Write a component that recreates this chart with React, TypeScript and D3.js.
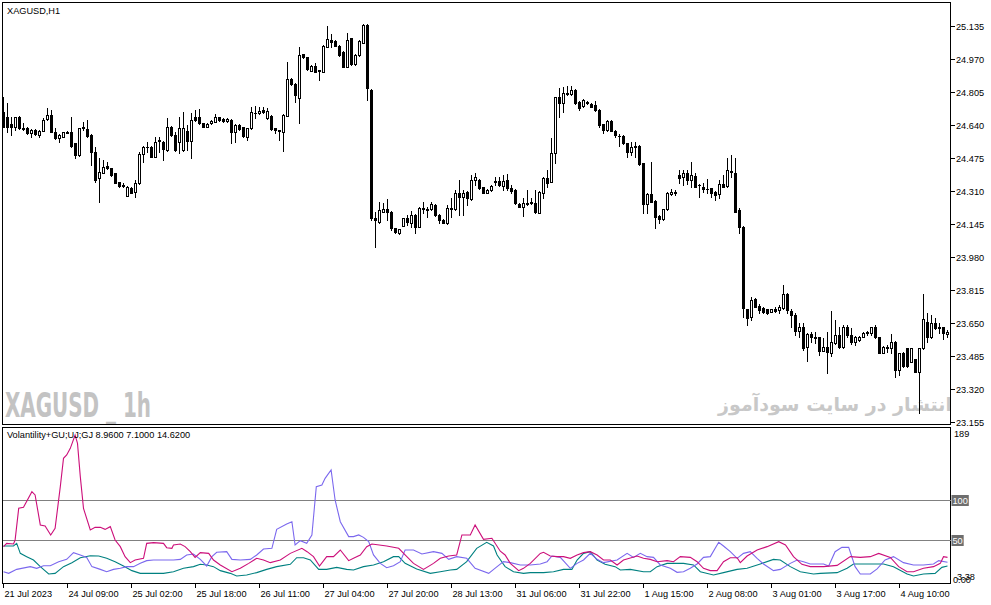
import React, { useRef, useEffect } from 'react';
import * as d3 from 'd3';

// XAGUSD H1 bars (237 bars)
const opens = [
  24.707, 24.682, 24.643, 24.632, 24.682, 24.625, 24.623, 24.598, 24.615, 24.590,
  24.612, 24.668, 24.690, 24.607, 24.573, 24.582, 24.607, 24.607, 24.548, 24.490,
  24.628, 24.618, 24.590, 24.507, 24.373, 24.402, 24.435, 24.423, 24.398, 24.353,
  24.342, 24.287, 24.327, 24.303, 24.348, 24.495, 24.532, 24.532, 24.482, 24.565,
  24.557, 24.515, 24.632, 24.590, 24.557, 24.515, 24.610, 24.560, 24.678, 24.678,
  24.648, 24.632, 24.648, 24.657, 24.678, 24.670, 24.660, 24.665, 24.603, 24.640,
  24.628, 24.582, 24.623, 24.702, 24.698, 24.715, 24.673, 24.685, 24.623, 24.613,
  24.603, 24.687, 24.870, 24.845, 24.773, 24.993, 24.978, 24.912, 24.937, 24.913,
  24.907, 25.032, 25.065, 25.060, 25.037, 25.007, 24.932, 25.073, 24.943, 24.990,
  25.052, 25.140, 24.815, 24.173, 24.157, 24.207, 24.218, 24.207, 24.123, 24.098,
  24.137, 24.173, 24.148, 24.190, 24.132, 24.225, 24.222, 24.218, 24.240, 24.190,
  24.165, 24.148, 24.225, 24.218, 24.302, 24.278, 24.307, 24.268, 24.365, 24.365,
  24.328, 24.302, 24.315, 24.358, 24.362, 24.337, 24.365, 24.323, 24.315, 24.245,
  24.228, 24.250, 24.248, 24.252, 24.202, 24.302, 24.373, 24.357, 24.502, 24.782,
  24.748, 24.800, 24.795, 24.815, 24.757, 24.735, 24.757, 24.745, 24.740, 24.715,
  24.643, 24.615, 24.660, 24.610, 24.587, 24.585, 24.548, 24.507, 24.533, 24.537,
  24.448, 24.243, 24.295, 24.260, 24.185, 24.168, 24.218, 24.293, 24.303, 24.390,
  24.378, 24.402, 24.365, 24.387, 24.342, 24.332, 24.322, 24.323, 24.307, 24.293,
  24.343, 24.335, 24.410, 24.398, 24.215, 24.132, 23.718, 23.682, 23.768, 23.735,
  23.723, 23.718, 23.707, 23.718, 23.715, 23.723, 23.795, 23.712, 23.690, 23.612,
  23.628, 23.528, 23.595, 23.580, 23.578, 23.512, 23.532, 23.502, 23.548, 23.590,
  23.532, 23.628, 23.590, 23.557, 23.565, 23.582, 23.603, 23.598, 23.632, 23.578,
  23.502, 23.530, 23.523, 23.557, 23.415, 23.498, 23.523, 23.457, 23.468, 23.407,
  23.523, 23.657, 23.578, 23.652, 23.628, 23.628, 23.593,
];
const highs = [
  24.782, 24.748, 24.682, 24.682, 24.685, 24.648, 24.628, 24.618, 24.618, 24.615,
  24.673, 24.723, 24.715, 24.623, 24.593, 24.607, 24.612, 24.682, 24.552, 24.627,
  24.657, 24.665, 24.593, 24.532, 24.473, 24.465, 24.457, 24.427, 24.402, 24.357,
  24.348, 24.335, 24.330, 24.365, 24.507, 24.535, 24.557, 24.535, 24.582, 24.582,
  24.560, 24.677, 24.635, 24.607, 24.682, 24.707, 24.640, 24.698, 24.715, 24.718,
  24.652, 24.648, 24.663, 24.693, 24.682, 24.673, 24.675, 24.668, 24.643, 24.643,
  24.632, 24.627, 24.732, 24.735, 24.732, 24.732, 24.723, 24.688, 24.627, 24.617,
  24.693, 24.957, 24.873, 24.848, 25.032, 24.997, 24.982, 24.940, 24.948, 24.917,
  25.038, 25.135, 25.093, 25.063, 25.040, 25.010, 25.102, 25.077, 24.993, 25.063,
  25.143, 25.143, 24.818, 24.207, 24.257, 24.248, 24.268, 24.210, 24.127, 24.122,
  24.177, 24.190, 24.212, 24.193, 24.232, 24.253, 24.232, 24.257, 24.243, 24.193,
  24.168, 24.240, 24.273, 24.315, 24.365, 24.315, 24.310, 24.390, 24.402, 24.368,
  24.332, 24.318, 24.338, 24.378, 24.382, 24.390, 24.395, 24.340, 24.318, 24.248,
  24.273, 24.315, 24.277, 24.315, 24.310, 24.382, 24.415, 24.573, 24.782, 24.823,
  24.828, 24.837, 24.835, 24.818, 24.760, 24.768, 24.760, 24.748, 24.762, 24.718,
  24.647, 24.665, 24.663, 24.613, 24.595, 24.588, 24.552, 24.557, 24.557, 24.540,
  24.452, 24.298, 24.453, 24.263, 24.188, 24.222, 24.305, 24.320, 24.315, 24.415,
  24.415, 24.415, 24.453, 24.398, 24.345, 24.348, 24.368, 24.327, 24.310, 24.365,
  24.390, 24.473, 24.490, 24.473, 24.223, 24.135, 23.722, 23.782, 23.773, 23.743,
  23.732, 23.722, 23.722, 23.732, 23.740, 23.840, 23.798, 23.718, 23.698, 23.652,
  23.652, 23.598, 23.605, 23.607, 23.582, 23.573, 23.607, 23.712, 23.665, 23.632,
  23.640, 23.640, 23.623, 23.585, 23.585, 23.607, 23.612, 23.632, 23.640, 23.582,
  23.535, 23.540, 23.595, 23.560, 23.502, 23.507, 23.527, 23.527, 23.472, 23.527,
  23.795, 23.702, 23.690, 23.673, 23.648, 23.632, 23.615,
];
const lows = [
  24.632, 24.607, 24.590, 24.615, 24.620, 24.615, 24.595, 24.582, 24.590, 24.578,
  24.608, 24.665, 24.603, 24.570, 24.557, 24.578, 24.598, 24.532, 24.473, 24.487,
  24.615, 24.582, 24.440, 24.357, 24.257, 24.398, 24.420, 24.387, 24.348, 24.332,
  24.332, 24.283, 24.298, 24.278, 24.345, 24.457, 24.507, 24.478, 24.478, 24.507,
  24.465, 24.512, 24.587, 24.512, 24.498, 24.512, 24.515, 24.477, 24.662, 24.645,
  24.628, 24.628, 24.645, 24.653, 24.662, 24.657, 24.657, 24.548, 24.557, 24.615,
  24.582, 24.565, 24.620, 24.673, 24.695, 24.700, 24.670, 24.615, 24.598, 24.565,
  24.512, 24.683, 24.842, 24.757, 24.648, 24.975, 24.915, 24.908, 24.903, 24.865,
  24.903, 25.028, 25.032, 25.033, 24.987, 24.928, 24.928, 24.940, 24.940, 24.987,
  25.048, 24.765, 24.165, 24.032, 24.148, 24.203, 24.165, 24.115, 24.098, 24.095,
  24.133, 24.140, 24.132, 24.098, 24.128, 24.198, 24.182, 24.215, 24.187, 24.148,
  24.148, 24.145, 24.182, 24.215, 24.190, 24.190, 24.240, 24.265, 24.340, 24.320,
  24.298, 24.298, 24.312, 24.340, 24.337, 24.315, 24.315, 24.302, 24.245, 24.228,
  24.185, 24.240, 24.245, 24.200, 24.198, 24.273, 24.332, 24.353, 24.448, 24.682,
  24.707, 24.790, 24.792, 24.745, 24.715, 24.732, 24.745, 24.728, 24.712, 24.628,
  24.598, 24.612, 24.608, 24.582, 24.537, 24.545, 24.482, 24.490, 24.482, 24.440,
  24.198, 24.198, 24.253, 24.127, 24.148, 24.165, 24.215, 24.290, 24.290, 24.348,
  24.340, 24.345, 24.332, 24.328, 24.282, 24.307, 24.302, 24.282, 24.265, 24.273,
  24.328, 24.332, 24.382, 24.203, 24.098, 23.682, 23.640, 23.665, 23.728, 23.702,
  23.702, 23.695, 23.703, 23.707, 23.698, 23.718, 23.702, 23.632, 23.590, 23.582,
  23.515, 23.462, 23.557, 23.548, 23.490, 23.508, 23.398, 23.485, 23.545, 23.523,
  23.523, 23.582, 23.545, 23.540, 23.562, 23.578, 23.590, 23.590, 23.573, 23.498,
  23.498, 23.507, 23.498, 23.378, 23.390, 23.432, 23.432, 23.453, 23.403, 23.198,
  23.520, 23.557, 23.575, 23.618, 23.602, 23.568, 23.582,
];
const closes = [
  24.632, 24.632, 24.632, 24.678, 24.623, 24.622, 24.598, 24.615, 24.595, 24.612,
  24.665, 24.690, 24.607, 24.573, 24.590, 24.603, 24.602, 24.537, 24.490, 24.623,
  24.623, 24.585, 24.507, 24.365, 24.403, 24.432, 24.423, 24.390, 24.352, 24.337,
  24.337, 24.332, 24.302, 24.352, 24.495, 24.532, 24.530, 24.482, 24.553, 24.558,
  24.518, 24.632, 24.590, 24.515, 24.623, 24.623, 24.560, 24.665, 24.665, 24.648,
  24.632, 24.645, 24.660, 24.682, 24.665, 24.660, 24.672, 24.603, 24.640, 24.618,
  24.585, 24.623, 24.703, 24.700, 24.710, 24.703, 24.708, 24.618, 24.615, 24.608,
  24.690, 24.868, 24.845, 24.790, 24.990, 24.978, 24.918, 24.937, 24.907, 24.910,
  25.035, 25.068, 25.057, 25.037, 24.990, 24.932, 25.065, 24.943, 24.990, 25.060,
  25.140, 24.823, 24.173, 24.165, 24.215, 24.218, 24.207, 24.123, 24.103, 24.118,
  24.173, 24.157, 24.190, 24.132, 24.223, 24.222, 24.217, 24.243, 24.190, 24.165,
  24.152, 24.223, 24.222, 24.302, 24.282, 24.302, 24.273, 24.365, 24.378, 24.323,
  24.302, 24.315, 24.335, 24.355, 24.340, 24.360, 24.323, 24.312, 24.248, 24.232,
  24.252, 24.247, 24.257, 24.203, 24.307, 24.373, 24.352, 24.502, 24.778, 24.748,
  24.798, 24.797, 24.815, 24.748, 24.723, 24.765, 24.748, 24.732, 24.715, 24.640,
  24.615, 24.662, 24.612, 24.590, 24.583, 24.548, 24.507, 24.532, 24.530, 24.443,
  24.243, 24.295, 24.257, 24.182, 24.168, 24.218, 24.302, 24.307, 24.300, 24.373,
  24.402, 24.365, 24.390, 24.332, 24.338, 24.320, 24.318, 24.298, 24.290, 24.343,
  24.332, 24.415, 24.403, 24.207, 24.128, 23.723, 23.673, 23.765, 23.732, 23.715,
  23.707, 23.702, 23.718, 23.712, 23.732, 23.795, 23.715, 23.690, 23.612, 23.628,
  23.523, 23.595, 23.578, 23.577, 23.512, 23.532, 23.503, 23.557, 23.590, 23.532,
  23.628, 23.590, 23.557, 23.582, 23.582, 23.602, 23.600, 23.628, 23.578, 23.502,
  23.532, 23.527, 23.557, 23.415, 23.498, 23.435, 23.435, 23.523, 23.407, 23.523,
  23.668, 23.578, 23.652, 23.623, 23.625, 23.598, 23.607,
];

const priceTicks = [25.135, 24.97, 24.805, 24.64, 24.475, 24.31, 24.145, 23.98, 23.815, 23.65, 23.485, 23.32, 23.155];
const timeLabels = [
  '21 Jul 2023', '24 Jul 09:00', '25 Jul 02:00', '25 Jul 18:00', '26 Jul 11:00',
  '27 Jul 04:00', '27 Jul 20:00', '28 Jul 13:00', '31 Jul 06:00', '31 Jul 22:00',
  '1 Aug 15:00', '2 Aug 08:00', '3 Aug 01:00', '3 Aug 17:00', '4 Aug 10:00',
];
const barsPerLabel = 16;

// volatility indicator, [bar index, value]
const volPink: [number, number][] = [
  [0, 41.7], [0.8, 45.8], [2.5, 45], [2.9, 50], [3.8, 89.6], [5, 90.8], [7.1, 110.4], [7.9, 106.3], [9.2, 68.8], [10.4, 67.5],
  [11.8, 56.3], [12.9, 64.6], [14.2, 116.7], [15, 152.1], [15.8, 156.3], [16.7, 164.6], [17.9, 181.3], [18.5, 170.8], [19.2, 129.2], [20, 89.6],
  [21.7, 62.5], [22.9, 65.8], [24.2, 65.8], [25.4, 63.3], [26.7, 66.7], [27.9, 50], [29.2, 41.7], [30.4, 29.2], [31.7, 21.7], [32.9, 25],
  [35, 27.1], [35.8, 45.8], [37.5, 46.7], [40, 45.8], [40.8, 40.4], [42.1, 39.6], [42.5, 43.8], [44.2, 45], [45.4, 41.7], [46.7, 35.4],
  [47.9, 28.3], [49.2, 34.2], [51.3, 33.3], [52.5, 25], [54.2, 18.8], [57.1, 10.4], [59.2, 14.6], [61.3, 20.8], [63.3, 27.1], [65, 25],
  [66.7, 21.7], [69.2, 25], [71.7, 33.3], [74.6, 39.6], [75.9, 35.4], [77.5, 29.2], [79, 17.5], [80.8, 29.2], [82.5, 29.2], [84.2, 37.5],
  [86.3, 24.2], [87.5, 27.1], [89.2, 31.3], [90.8, 41.7], [92.1, 45], [95.8, 42.5], [98.8, 39.6], [100.4, 31.3], [102.5, 20.8], [105, 13.3],
  [107.5, 20.8], [109.2, 27.1], [111.3, 30], [113.3, 31.3], [114.6, 56.3], [116.7, 56.3], [117.9, 68.8], [120, 50.8], [122.1, 52.1], [124.2, 36],
  [125.4, 31.3], [126.7, 20.8], [128.8, 11.7], [130, 14.6], [131.7, 20.8], [134.2, 33.3], [135, 34.6], [136.7, 30], [138.4, 29.2], [140, 29.2],
  [141.7, 27.1], [143.4, 31.3], [145, 34.2], [146.7, 35.4], [148.4, 31.3], [150, 25], [151.7, 25], [153.4, 18.8], [155, 25], [158.4, 30],
  [160, 27.1], [161.7, 25.8], [163.4, 22.9], [165.9, 24.2], [167.5, 22.9], [169.2, 29.2], [171.7, 28.3], [173.4, 22.9], [175, 14.6], [176.7, 11.7],
  [178.4, 11.7], [180, 22.9], [181.7, 27.9], [183.4, 27.9], [184.2, 21.7], [185.9, 30], [188.4, 37.5], [190.9, 41.7], [193.8, 47.9], [195.5, 43.8],
  [197.5, 29.2], [199.6, 19.6], [201.7, 16.7], [205, 16.7], [208.4, 18.3], [211.7, 29.2], [214.2, 28.3], [216.7, 29.2], [218.8, 33.3], [221.7, 28.3],
  [223.8, 16.7], [225.9, 10.4], [227.5, 10.4], [230, 14.6], [232.5, 16.7], [234.2, 20.8], [235, 29.2], [236, 28.3],
];
const volSlate: [number, number][] = [
  [0, 10.4], [1.3, 8.3], [3.3, 13.3], [6.7, 16.7], [8.3, 14.6], [10, 17.9], [11.7, 17.9], [13.8, 22.9], [15.8, 25.8], [17.5, 34.2],
  [19.2, 31.3], [20.8, 28.3], [22.1, 16.7], [24.2, 13.3], [25.8, 10.4], [27.5, 13.3], [29.2, 14.6], [30.8, 16.7], [32.5, 16.7], [34.2, 20.8],
  [35.8, 24.2], [37.5, 25], [40.8, 25], [42.5, 25], [44.2, 25.8], [45.8, 31.3], [47.5, 32.5], [49.2, 25.8], [50.8, 17.5], [52.1, 29.2],
  [53.3, 34.6], [55.8, 35.4], [57.1, 25.8], [59.2, 25], [61.7, 25.8], [63.3, 31.3], [65, 38.8], [67.1, 39.6], [68.3, 63.3], [70.8, 70],
  [72.1, 72.9], [72.9, 43.8], [74.2, 49.2], [75.8, 45.8], [77.1, 56.3], [78.2, 116.7], [79.6, 118.8], [80.4, 127.1], [81.9, 137.5], [82.9, 100],
  [84.2, 72.9], [86.3, 54.2], [87.5, 54.2], [88.8, 56.3], [90, 53.3], [91.3, 47.9], [92.5, 31.3], [94.2, 20.8], [95.8, 15.4], [97.5, 17.9],
  [99.2, 22.9], [100.4, 37.5], [102.5, 37.5], [104.6, 32.5], [107.5, 35.4], [109.6, 33.3], [111.3, 25.8], [113.3, 29.2], [115.8, 27.1], [117.9, 14.6],
  [121.3, 8.3], [123.4, 16.7], [125, 22.9], [126.7, 21.7], [129.2, 18.8], [131.7, 18.8], [134.2, 20], [135.9, 22.9], [137.1, 30], [139.2, 28.3],
  [141.7, 14.6], [143.4, 20.8], [145, 25], [146.7, 33.3], [148.4, 25.8], [150, 21.7], [153.4, 25], [155.9, 33.3], [157.5, 28.3], [159.2, 33.3],
  [160.9, 29.2], [162.5, 28.3], [164.2, 18.8], [166.7, 14.6], [168.4, 9.6], [170, 10.4], [171.7, 14.6], [173.4, 20], [175, 28.3], [176.7, 29.2],
  [178.8, 47.1], [180, 42.5], [181.7, 35.4], [183.4, 27.1], [185, 33.3], [186.7, 35.4], [188.4, 27.1], [190, 20], [192.5, 11.7], [194.2, 13.3],
  [196.7, 20.8], [198.4, 25], [200, 22.9], [201.7, 20], [205, 20], [206.3, 17.5], [207.9, 35.4], [209.6, 40.8], [211.3, 40.8], [212.9, 16.7],
  [214.2, 7.5], [216.7, 7.5], [218.4, 13.8], [220.4, 25], [222.5, 29.2], [225, 21.7], [227.5, 18.8], [230, 18.8], [232.5, 20], [233.8, 24.2],
  [236, 22.1],
];
const volTeal: [number, number][] = [
  [0, 42.5], [2.5, 42.5], [3.3, 45.8], [4.2, 33.3], [5.8, 29.2], [7.5, 25], [9.2, 16.7], [11.3, 7.5], [12.9, 8.3], [15, 16.7],
  [17.1, 21.7], [19.2, 27.9], [21.7, 30.4], [23.8, 30], [25.8, 27.1], [27.9, 22.9], [30, 17.5], [32.1, 11.7], [34.2, 8.3], [36.7, 8.3],
  [40, 8.3], [42.5, 10.4], [45, 14.6], [47.5, 16.7], [49.2, 19.6], [50.8, 18.8], [52.5, 16.7], [54.2, 11.7], [56.7, 8.3], [58.3, 5],
  [60.8, 6.3], [63.3, 9.2], [65.8, 13.3], [68.3, 16.7], [71.7, 19.6], [73.3, 27.9], [75, 27.9], [76.7, 25], [78.8, 13.3], [80.8, 13.3],
  [83.3, 15.8], [85.8, 13.3], [87.5, 12.5], [90, 16.7], [92.5, 18.8], [95, 22.9], [97.5, 29.2], [98.8, 29.2], [100.4, 20.8], [103.3, 13.8],
  [106.7, 8.3], [109.2, 10.4], [111.7, 12.5], [113.3, 13.3], [115.8, 22.9], [118.3, 39.6], [120.8, 47.1], [122.5, 42.5], [123.4, 31.3], [125.4, 16.7],
  [127.5, 10.4], [130, 8.3], [131.7, 9.2], [135, 9.2], [137.5, 10.4], [140, 13.3], [142.1, 13.3], [143.4, 25], [145, 33.3], [146.7, 35.4],
  [148.4, 25], [150.4, 19.6], [152.9, 16.7], [154.2, 12.5], [156.7, 13.3], [160, 10.4], [161.7, 10.4], [163.4, 16.7], [165.9, 20.8], [170, 20.8],
  [172.5, 18.8], [174.2, 10.4], [177.5, 6.3], [180, 9.2], [183.4, 13.3], [185.9, 14.6], [189.2, 20], [192.5, 25.8], [194.2, 25], [196.7, 16.7],
  [199.2, 10.4], [202.5, 7.5], [204.2, 8.3], [208.4, 9.2], [210.9, 14.6], [212.5, 20], [215, 20], [220, 20], [222.5, 16.7], [225.9, 7.5],
  [227.5, 5], [230, 7.5], [232.9, 8.3], [234.6, 15.8], [236, 17.5],
];
const levels = [100, 50];
const indMin = 3.38;
const indMax = 189;

const App: React.FC = () => {
  const svgRef = useRef<SVGSVGElement | null>(null);

  useEffect(() => {
    if (!svgRef.current) return;
    const width = 991;
    const height = 605;
    const left = 2.5;
    const right = 950.5;
    const mainTop = 2.5;
    const mainBottom = 424.5;
    const indTop = 427.5;
    const indBottom = 583.5;
    const font = "'Liberation Sans', Arial, sans-serif";
    const fs = 9.2;

    const svg = d3.select(svgRef.current);
    svg.selectAll('*').remove();
    svg.attr('width', width).attr('height', height);
    svg.append('rect').attr('width', width).attr('height', height).attr('fill', '#ffffff');

    const x = d3.scaleLinear().domain([0, opens.length - 1]).range([3.5, 947.5]);
    const y = d3.scaleLinear().domain([23.155, 25.135]).range([422, 26]);
    const yi = d3.scaleLinear().domain([indMin, indMax]).range([577.3, 428.8]);
    const px = (v: number) => Math.round(v) + 0.5;

    const defs = svg.append('defs');
    defs.append('clipPath').attr('id', 'mainClip').append('rect')
      .attr('x', left).attr('y', mainTop).attr('width', right - left).attr('height', mainBottom - mainTop);
    defs.append('clipPath').attr('id', 'indClip').append('rect')
      .attr('x', left).attr('y', indTop).attr('width', right - left).attr('height', indBottom - indTop);

    // watermarks
    svg.append('text')
      .attr('x', 5).attr('y', 417)
      .attr('font-family', "'DejaVu Sans Condensed', 'DejaVu Sans', sans-serif")
      .attr('font-weight', 'bold').attr('font-size', 33)
      .attr('textLength', 146).attr('lengthAdjust', 'spacingAndGlyphs')
      .attr('fill', '#c3c3c3')
      .text('XAGUSD _ 1h');
    svg.append('text')
      .attr('x', 835).attr('y', 411)
      .attr('text-anchor', 'middle')
      .attr('font-family', "'DejaVu Sans', sans-serif")
      .attr('font-weight', 'bold').attr('font-size', 19)
      .attr('fill', '#c8c8c8')
      .text('انتشار در سایت سودآموز');

    // candles
    const candles = d3.range(opens.length).map(i => ({ i, o: opens[i], h: highs[i], l: lows[i], c: closes[i] }));
    const g = svg.append('g').attr('clip-path', 'url(#mainClip)').attr('shape-rendering', 'crispEdges');
    g.selectAll('line.wick').data(candles).enter().append('line')
      .attr('class', 'wick')
      .attr('x1', d => x(d.i)).attr('x2', d => x(d.i))
      .attr('y1', d => px(y(d.h)) - 0.5).attr('y2', d => px(y(d.l)) + 0.5)
      .attr('stroke', '#000');
    candles.forEach(d => {
      const top = px(y(Math.max(d.o, d.c)));
      const bot = px(y(Math.min(d.o, d.c)));
      const cx = x(d.i);
      if (bot - top < 1) {
        g.append('line').attr('x1', cx - 1.5).attr('x2', cx + 1.5).attr('y1', top).attr('y2', top).attr('stroke', '#000');
      } else {
        g.append('rect')
          .attr('x', cx - 1).attr('y', top).attr('width', 2).attr('height', bot - top)
          .attr('fill', d.c > d.o ? '#ffffff' : '#000000').attr('stroke', '#000');
      }
    });

    // panel frames
    svg.append('rect').attr('x', left).attr('y', mainTop).attr('width', right - left).attr('height', mainBottom - mainTop)
      .attr('fill', 'none').attr('stroke', '#000').attr('shape-rendering', 'crispEdges');
    svg.append('rect').attr('x', left).attr('y', indTop).attr('width', right - left).attr('height', indBottom - indTop)
      .attr('fill', 'none').attr('stroke', '#000').attr('shape-rendering', 'crispEdges');

    svg.append('text').attr('x', 7).attr('y', 14).attr('font-family', font).attr('font-size', fs).text('XAGUSD,H1');

    // price axis
    const pa = svg.append('g');
    priceTicks.forEach(p => {
      const yy = px(y(p));
      pa.append('line').attr('x1', right).attr('x2', right + 4).attr('y1', yy).attr('y2', yy)
        .attr('stroke', '#000').attr('shape-rendering', 'crispEdges');
      pa.append('text').attr('x', 956).attr('y', yy + 3.5).attr('font-family', font).attr('font-size', fs)
        .text(p.toFixed(3));
    });

    // indicator
    levels.forEach(lv => {
      const yy = px(yi(lv));
      svg.append('line').attr('x1', left).attr('x2', right).attr('y1', yy).attr('y2', yy)
        .attr('stroke', '#808080').attr('shape-rendering', 'crispEdges');
      const w = String(lv).length * 5.1 + 2;
      svg.append('rect').attr('x', 951.5).attr('y', yy - 5.5).attr('width', w).attr('height', 11).attr('fill', '#6e6e6e');
      svg.append('text').attr('x', 952.5).attr('y', yy + 3.5).attr('font-family', font).attr('font-size', fs)
        .attr('fill', '#ffffff').text(String(lv));
    });

    const line = d3.line<[number, number]>().x(d => x(d[0])).y(d => yi(d[1]));
    const ig = svg.append('g').attr('clip-path', 'url(#indClip)');
    ig.append('path').datum(volTeal).attr('d', line).attr('fill', 'none').attr('stroke', '#008080').attr('stroke-width', 1.1);
    ig.append('path').datum(volSlate).attr('d', line).attr('fill', 'none').attr('stroke', '#7b68ee').attr('stroke-width', 1.1);
    ig.append('path').datum(volPink).attr('d', line).attr('fill', 'none').attr('stroke', '#cc0f7a').attr('stroke-width', 1.1);

    svg.append('text').attr('x', 7).attr('y', 438).attr('font-family', font).attr('font-size', fs)
      .text('Volantility+GU;UJ;GJ 8.9600 7.1000 14.6200');
    svg.append('text').attr('x', 954).attr('y', 437).attr('font-family', font).attr('font-size', fs).text(indMax.toString());
    svg.append('text').attr('x', 953).attr('y', 583).attr('font-family', font).attr('font-size', fs).text('0.00');
    svg.append('text').attr('x', 957).attr('y', 580).attr('font-family', font).attr('font-size', fs).text(indMin.toFixed(2));

    // time axis
    timeLabels.forEach((t, j) => {
      const xx = x(j * barsPerLabel);
      svg.append('line').attr('x1', xx).attr('x2', xx).attr('y1', indBottom).attr('y2', indBottom + 4)
        .attr('stroke', '#000').attr('shape-rendering', 'crispEdges');
      svg.append('text').attr('x', xx + 1).attr('y', 597).attr('font-family', font).attr('font-size', fs).text(t);
    });
  }, []);

  return <svg ref={svgRef} style={{ position: 'absolute', left: 0, top: 0, display: 'block' }}></svg>;
};

export default App;
